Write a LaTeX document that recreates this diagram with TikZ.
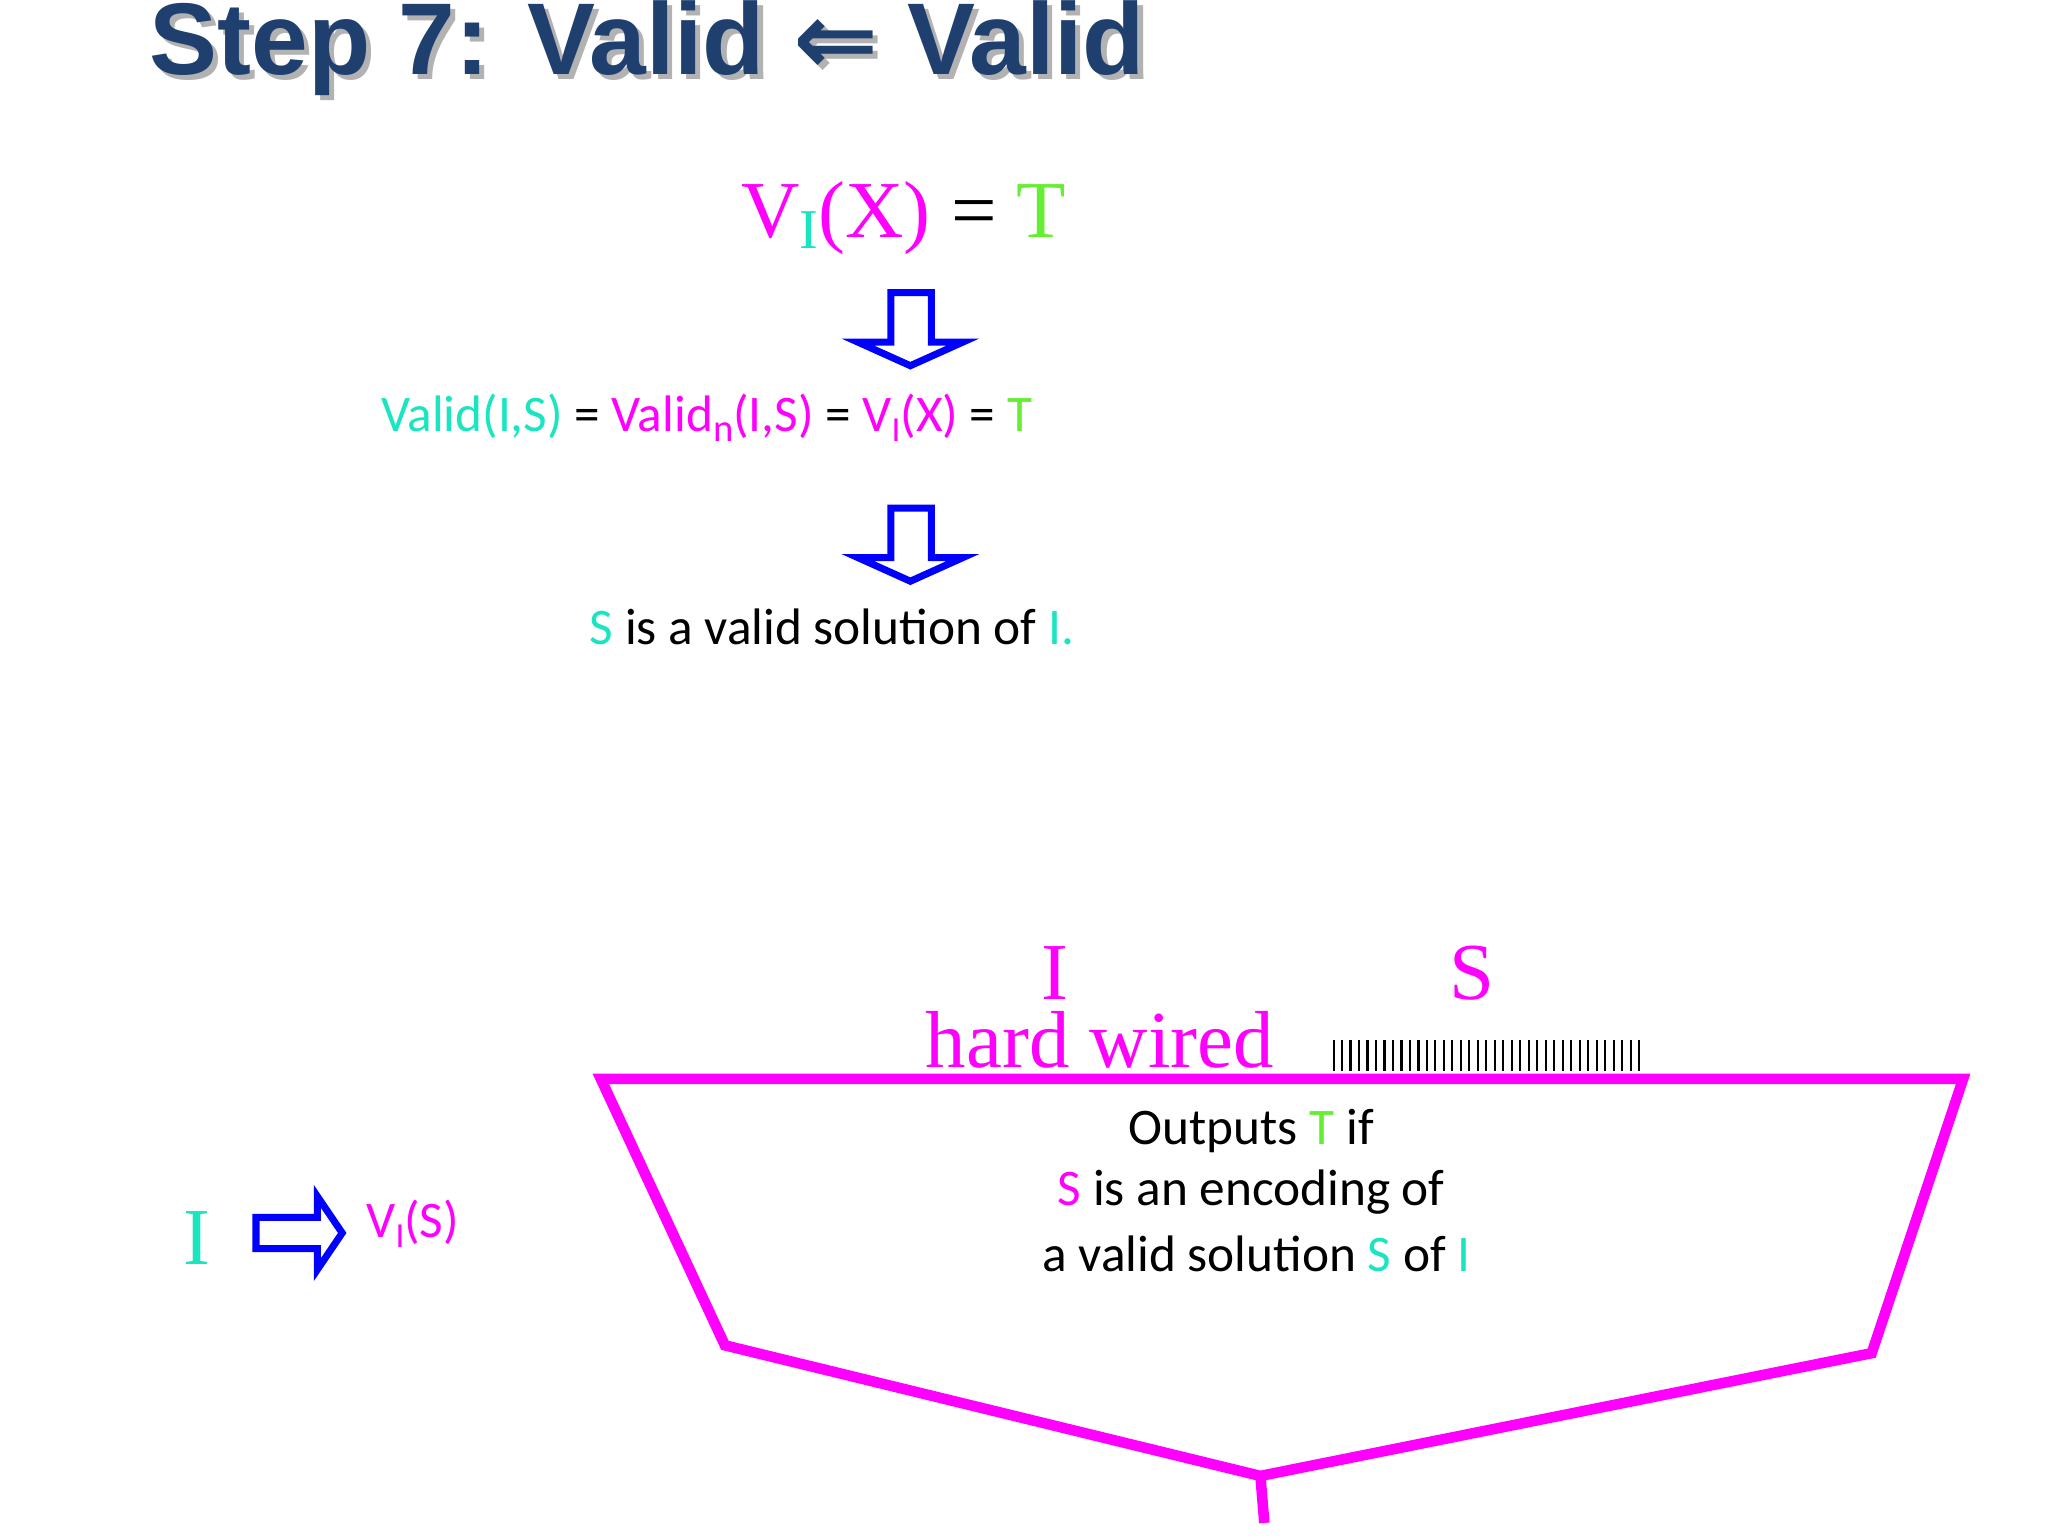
\documentclass[tikz,border=0pt]{standalone}
\usepackage{fontspec}
\setmainfont{Carlito}
\newfontfamily\titlefont{Liberation Sans}
\newfontfamily\arrfont{DejaVu Sans}
\newfontfamily\serif{Liberation Serif}
\begin{document}
\begin{tikzpicture}[x=0.01306cm,y=-0.01306cm,
  txt/.style={font=\fontsize{14.6}{18}\selectfont, inner sep=0pt},
  ser/.style={font=\serif\fontsize{23}{27}\selectfont, inner sep=0pt},
  hollow/.style={draw=blue, line width=2pt, line join=miter}]
\definecolor{cy}{HTML}{19E6C0}
\definecolor{gr}{HTML}{66EE33}
\definecolor{tb}{HTML}{1F3F6F}
\definecolor{pk}{HTML}{FF00FF}
\useasboundingbox (0,0) rectangle (1568,1176);
% title
\node[anchor=west, inner sep=0pt, text=gray!60, font=\titlefont\bfseries\fontsize{29}{32}\selectfont] at (118,41) {Step 7: Valid {\arrfont\bfseries ⇐} Valid};
\node[anchor=west, inner sep=0pt, text=tb, font=\titlefont\bfseries\fontsize{29}{32}\selectfont] (title) at (114,37) {Step 7: Valid {\arrfont\bfseries ⇐} Valid};
% VI(X)=T
\node[ser] (vix) at (692,167) {\textcolor{pk}{V}\textcolor{cy}{\raisebox{-0.3ex}{\fontsize{16}{20}\selectfont I}}\textcolor{pk}{(X)} = \textcolor{gr}{T}};
% hollow down arrows
\foreach \yy in {224, 389}{
  \draw[hollow] (682,\yy) -- (713,\yy) -- (713,\yy+38) -- (737,\yy+38) -- (697,\yy+56) -- (657,\yy+38) -- (682,\yy+38) -- cycle;
}
\node[txt] (valid) at (541,320) {\textcolor{cy}{Valid(I,S)} = \textcolor{pk}{Valid\raisebox{-0.4ex}{\fontsize{11}{13}\selectfont n}(I,S)} = \textcolor{pk}{V\raisebox{-0.4ex}{\fontsize{10}{12}\selectfont I}(X)} = \textcolor{gr}{T}};
\node[txt] (sol) at (637,480) {\textcolor{cy}{S} is a valid solution of \textcolor{cy}{I.}};
% left
\node[ser, text=cy] (ileft) at (151,948) {I};
\draw[hollow] (196,932) -- (243,932) -- (243,916) -- (262,944) -- (243,972) -- (243,956) -- (196,956) -- cycle;
\node[txt, text=pk] (vis) at (316,937) {V\raisebox{-0.4ex}{\fontsize{10}{12}\selectfont I}(S)};
% trapezoid
\draw[pk, line width=3pt, line join=miter] (460,826) -- (1503,826) -- (1433,1036) -- (965,1130) -- (555,1030) -- cycle;
\coordinate (bot) at (965,1130);
\coordinate (botend) at (968,1166);
\draw[pk, line width=3pt] (bot) -- (botend);
\node[ser, text=pk] (itop) at (808,745) {I};
\node[ser, text=pk] (hw) at (842,796) {hard wired};
\node[ser, text=pk] (stop) at (1127,745) {S};
\foreach \i in {0,...,36} \draw[line width=0.6pt] (1021+\i*6.5,796) -- (1021+\i*6.5,820);
\node[txt] (l1) at (958,866) {Outputs \textcolor{gr}{T} if};
\node[txt] (l2) at (958,913) {\textcolor{pk}{S} is an encoding of};
\node[txt] (l3) at (962,960) {a valid solution \textcolor{cy}{S} of \textcolor{cy}{I}};
\end{tikzpicture}
\end{document}
